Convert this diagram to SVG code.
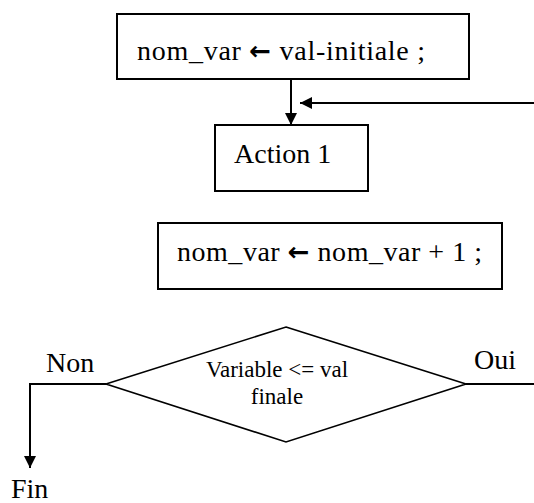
<svg xmlns="http://www.w3.org/2000/svg" width="534" height="503" viewBox="0 0 534 503">
  <defs>
    <marker id="head" viewBox="0 0 10 10" refX="10" refY="5" markerWidth="6" markerHeight="6" orient="auto" markerUnits="strokeWidth">
      <path d="M0,0 L10,5 L0,10 Z" fill="#000"/>
    </marker>
  </defs>

  <!-- connectors -->
  <g id="connectors" fill="none" stroke="#000" stroke-width="2">
    <line x1="291" y1="79" x2="291" y2="125" marker-end="url(#head)"/>
    <line x1="534" y1="103" x2="300" y2="103" marker-end="url(#head)"/>
    <polyline points="106,384 30,384 30,468" marker-end="url(#head)"/>
    <line x1="466" y1="384" x2="534" y2="384"/>
  </g>

  <g id="init">
    <rect x="117" y="14" width="352" height="65" fill="#fff" stroke="#000" stroke-width="2"/>
    <text x="137" y="60" font-family="Liberation Serif" font-size="28" textLength="288" lengthAdjust="spacing">nom_var <tspan font-family="DejaVu Sans" font-weight="bold" font-size="26">←</tspan> val-initiale ;</text>
  </g>

  <g id="action1">
    <rect x="215" y="125" width="153" height="66" fill="#fff" stroke="#000" stroke-width="2"/>
    <text x="234" y="163" font-family="Liberation Serif" font-size="28">Action 1</text>
  </g>

  <g id="increment">
    <rect x="158" y="223" width="344" height="66" fill="#fff" stroke="#000" stroke-width="2"/>
    <text x="177" y="261" font-family="Liberation Serif" font-size="28" textLength="305" lengthAdjust="spacing">nom_var <tspan font-family="DejaVu Sans" font-weight="bold" font-size="26">←</tspan> nom_var + 1 ;</text>
  </g>

  <g id="test">
    <polygon points="286,327 466,384 286,442 106,384" fill="#fff" stroke="#000" stroke-width="1.6"/>
    <text x="277" y="377" text-anchor="middle" font-family="Liberation Serif" font-size="23">Variable &lt;= val</text>
    <text x="277" y="404" text-anchor="middle" font-family="Liberation Serif" font-size="23">finale</text>
  </g>

  <g id="labels">
    <text x="46" y="372" font-family="Liberation Serif" font-size="28">Non</text>
    <text x="474" y="369" font-family="Liberation Serif" font-size="28">Oui</text>
    <text x="11" y="498" font-family="Liberation Serif" font-size="28">Fin</text>
  </g>
</svg>
